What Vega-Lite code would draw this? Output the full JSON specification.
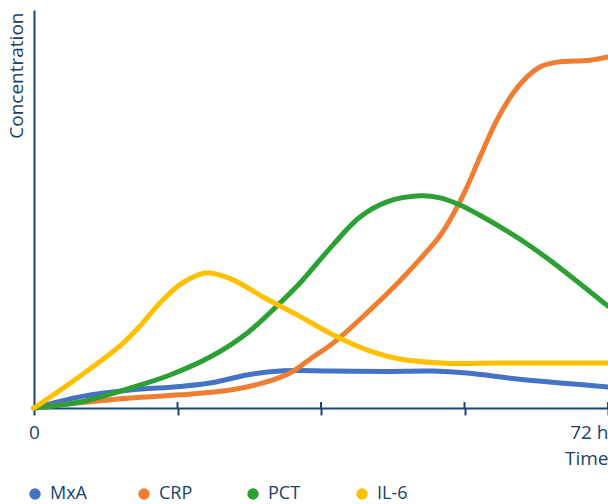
{
  "$schema": "https://vega.github.io/schema/vega-lite/v6.json",
  "width": 574,
  "height": 398,
  "autosize": "none",
  "padding": {"left": 34, "top": 10, "right": 0, "bottom": 96},
  "config": {"view": {"stroke": null}, "font": "Open Sans"},
  "datasets": {
    "series": [
      {"s": "MxA", "t": 0, "v": 0}, {"s": "MxA", "t": 5.77, "v": 2.8}, {"s": "MxA", "t": 12.04, "v": 4.5}, {"s": "MxA", "t": 18.31, "v": 5.4}, {"s": "MxA", "t": 22.45, "v": 6.4}, {"s": "MxA", "t": 26.72, "v": 8.3}, {"s": "MxA", "t": 30.86, "v": 9.3}, {"s": "MxA", "t": 37.13, "v": 9.3}, {"s": "MxA", "t": 44, "v": 9.2}, {"s": "MxA", "t": 50.05, "v": 9.3}, {"s": "MxA", "t": 54.31, "v": 8.8}, {"s": "MxA", "t": 60.59, "v": 7.3}, {"s": "MxA", "t": 66, "v": 6.3}, {"s": "MxA", "t": 72, "v": 5.3},
      {"s": "CRP", "t": 0, "v": 0}, {"s": "CRP", "t": 5.77, "v": 1.3}, {"s": "CRP", "t": 12.04, "v": 2.5}, {"s": "CRP", "t": 18.31, "v": 3.3}, {"s": "CRP", "t": 24.59, "v": 4.5}, {"s": "CRP", "t": 28.73, "v": 6.3}, {"s": "CRP", "t": 32.11, "v": 8.8}, {"s": "CRP", "t": 35.0, "v": 12.8}, {"s": "CRP", "t": 37.51, "v": 16.3}, {"s": "CRP", "t": 41.77, "v": 23.9}, {"s": "CRP", "t": 45.91, "v": 32.0}, {"s": "CRP", "t": 48.42, "v": 37.4}, {"s": "CRP", "t": 50.93, "v": 43.3}, {"s": "CRP", "t": 52.56, "v": 48.6}, {"s": "CRP", "t": 54.31, "v": 55.5}, {"s": "CRP", "t": 55.95, "v": 63.1}, {"s": "CRP", "t": 58.08, "v": 72.4}, {"s": "CRP", "t": 60.09, "v": 79.1}, {"s": "CRP", "t": 61.84, "v": 83.2}, {"s": "CRP", "t": 63.47, "v": 85.7}, {"s": "CRP", "t": 65.6, "v": 86.9}, {"s": "CRP", "t": 69.75, "v": 87.4}, {"s": "CRP", "t": 72, "v": 88.2},
      {"s": "PCT", "t": 0, "v": 0}, {"s": "PCT", "t": 5.77, "v": 1.5}, {"s": "PCT", "t": 12.04, "v": 5.0}, {"s": "PCT", "t": 17.06, "v": 8.3}, {"s": "PCT", "t": 22.08, "v": 12.8}, {"s": "PCT", "t": 26.72, "v": 18.8}, {"s": "PCT", "t": 30.86, "v": 26.4}, {"s": "PCT", "t": 33.37, "v": 31.4}, {"s": "PCT", "t": 37.51, "v": 41.0}, {"s": "PCT", "t": 40.89, "v": 48.0}, {"s": "PCT", "t": 44.28, "v": 51.8}, {"s": "PCT", "t": 48.42, "v": 53.3}, {"s": "PCT", "t": 50.93, "v": 52.8}, {"s": "PCT", "t": 53.44, "v": 51.0}, {"s": "PCT", "t": 56.32, "v": 48.0}, {"s": "PCT", "t": 59.71, "v": 44.0}, {"s": "PCT", "t": 62.59, "v": 40.2}, {"s": "PCT", "t": 65.98, "v": 35.2}, {"s": "PCT", "t": 72, "v": 25.6},
      {"s": "IL-6", "t": 0, "v": 0}, {"s": "IL-6", "t": 5.77, "v": 8.0}, {"s": "IL-6", "t": 10.79, "v": 15.6}, {"s": "IL-6", "t": 13.3, "v": 20.6}, {"s": "IL-6", "t": 15.8, "v": 26.4}, {"s": "IL-6", "t": 18.3, "v": 31.0}, {"s": "IL-6", "t": 20.8, "v": 33.6}, {"s": "IL-6", "t": 22.08, "v": 33.9}, {"s": "IL-6", "t": 24.96, "v": 32.2}, {"s": "IL-6", "t": 28.73, "v": 27.9}, {"s": "IL-6", "t": 32.99, "v": 23.4}, {"s": "IL-6", "t": 37.13, "v": 18.8}, {"s": "IL-6", "t": 41.77, "v": 14.6}, {"s": "IL-6", "t": 45.91, "v": 12.3}, {"s": "IL-6", "t": 52.18, "v": 11.2}, {"s": "IL-6", "t": 58.45, "v": 11.3}, {"s": "IL-6", "t": 72, "v": 11.3}
    ],
    "ticks": [{"t": 18}, {"t": 36}, {"t": 54}, {"t": 72}]
  },
  "layer": [
    {
      "data": {"name": "ticks"},
      "mark": {"type": "rule", "color": "#1b4572", "strokeWidth": 2},
      "encoding": {
        "x": {"field": "t", "type": "quantitative", "title": "Time"},
        "y": {"datum": 0, "type": "quantitative", "title": "Concentration"},
        "y2": {"datum": 1.5}
      }
    },
    {
      "data": {"name": "series"},
      "mark": {"type": "line", "interpolate": "catmull-rom", "strokeWidth": 5, "strokeCap": "round"},
      "encoding": {
        "x": {
          "field": "t", "type": "quantitative", "title": "Time",
          "scale": {"domain": [0, 72], "nice": false},
          "axis": {
            "values": [0, 18, 36, 54, 72],
            "labelExpr": "datum.value == 0 ? '0' : (datum.value == 72 ? '72 h' : '')",
            "labelFlush": false,
            "labelAlign": {"condition": {"test": "datum.value == 72", "value": "right"}, "value": "center"},
            "labelFontSize": 19, "labelColor": "#1b3f6b", "labelPadding": 17,
            "labelBaseline": "middle",
            "domainColor": "#1b4572", "domainWidth": 2,
            "tickColor": "#1b4572", "tickWidth": 2, "tickSize": 7,
            "grid": false,
            "titleFontSize": 19, "titleFontWeight": "normal", "titleColor": "#1b3f6b",
            "titleAnchor": "end", "titleAlign": "right", "titleBaseline": "middle",
            "titleX": 574, "titleY": 50
          }
        },
        "y": {
          "field": "v", "type": "quantitative", "title": "Concentration",
          "scale": {"domain": [0, 100], "nice": false},
          "axis": {
            "labels": false, "ticks": false, "grid": false,
            "domainColor": "#1b4572", "domainWidth": 2,
            "titleFontSize": 19, "titleFontWeight": "normal", "titleColor": "#1b3f6b",
            "titleAngle": -90, "titleAlign": "right", "titleBaseline": "middle",
            "titleX": -18, "titleY": 2
          }
        },
        "color": {
          "field": "s", "type": "nominal",
          "scale": {"domain": ["MxA", "CRP", "PCT", "IL-6"], "range": ["#4472c4", "#ef7d32", "#2ca035", "#ffc000"]},
          "legend": {
            "orient": "none", "legendX": -8, "legendY": 475,
            "direction": "horizontal", "columns": 4, "gridAlign": "all",
            "title": null, "symbolType": "circle", "symbolSize": 130,
            "labelFontSize": 18, "labelColor": "#1b3f6b", "labelOffset": 6,
            "labelBaseline": "middle",
            "columnPadding": 48,
            "encode": {"symbols": {"update": {"fill": {"scale": "color", "field": "value"}, "strokeWidth": {"value": 0}}}}
          }
        }
      }
    }
  ]
}
